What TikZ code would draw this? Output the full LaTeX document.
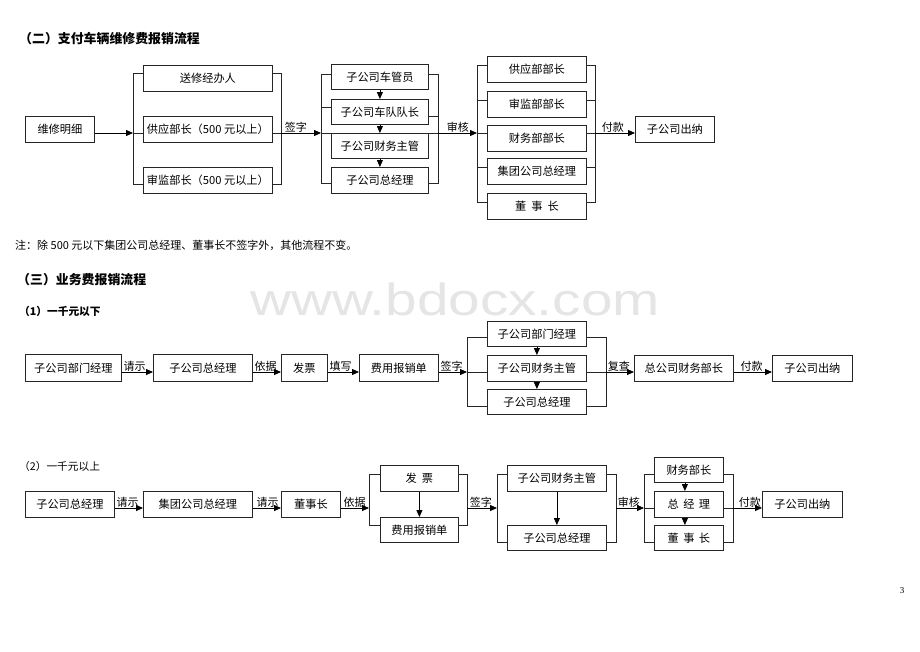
\documentclass[tikz,border=0pt]{standalone}
\usepackage{fontspec}
\usepackage{graphicx}
\setmainfont{Noto Sans CJK SC}
\newfontfamily\wmfont{Liberation Sans}
\newfontfamily\numfont{Liberation Serif}
\usetikzlibrary{arrows.meta}
\begin{document}
\begin{tikzpicture}[x=1pt,y=-1pt,
  box/.style={draw=black!85, line width=0.8pt, inner sep=0pt, anchor=north west, font=\fontsize{11.2}{13}\selectfont},
  arr/.style={draw=black, line width=0.8pt, -{Triangle[length=7pt,width=6pt]}},
  ln/.style={draw=black!85, line width=0.8pt},
  lbl/.style={font=\fontsize{11}{12}\selectfont, inner sep=0.5pt, anchor=south west},
  hd/.style={anchor=west, inner sep=0pt, font=\fontsize{12.9}{14}\selectfont\bfseries}]
\useasboundingbox[fill=white] (0,0) rectangle (920,651);

% watermark
\node[anchor=base west, inner sep=0pt, text=black!10, font=\wmfont\fontsize{45}{50}\selectfont] (wm) at (250,315) {\scalebox{1.26}[1]{www.bdocx.com}};

% texts
\node[hd] (h1) at (19,39) {（二）支付车辆维修费报销流程};
\node[anchor=west, inner sep=0pt, font=\fontsize{11}{12}\selectfont] (note) at (15,245) {注：除 500 元以下集团公司总经理、董事长不签字外，其他流程不变。};
\node[hd] (h2) at (17,280) {（三）业务费报销流程};
\node[anchor=west, inner sep=0pt, font=\fontsize{10.7}{12}\selectfont\bfseries] (h3) at (19,311) {（1）一千元以下};
\node[anchor=west, inner sep=0pt, font=\fontsize{10.7}{12}\selectfont] (h4) at (19,466) {（2）一千元以上};
\node[inner sep=0pt, font=\numfont\fontsize{9}{10}\selectfont] (pg) at (902,591) {3};

% ================= Section 1 =================
\node[box,minimum width=69pt,minimum height=26pt] (m1) at (25,116) {维修明细};
\node[box,minimum width=129pt,minimum height=26pt] (a1) at (143,65) {送修经办人};
\node[box,minimum width=129pt,minimum height=26pt] (a2) at (143,116) {供应部长（500 元以上）};
\node[box,minimum width=129pt,minimum height=26pt] (a3) at (143,167) {审监部长（500 元以上）};
\coordinate (Al) at (133,133); \coordinate (Ar) at (281,133);
\coordinate (a1p) at ([yshift=5pt]a1.center);
\coordinate (a3p) at ([yshift=-4pt]a3.center);
\draw[ln] (a1p -| a1.west) -| (a3p -| Al) -- (a3p -| a3.west);
\draw[ln] (a1p -| a1.east) -| (a3p -| Ar) -- (a3p -| a3.east);
\draw[ln] (Al) -- (Al -| a2.west);
\draw[ln] (Ar -| a2.east) -- (Ar);
\draw[arr] (m1.east |- Al) -- (Al);

\node[box,minimum width=97pt,minimum height=25pt] (b1) at (331,64) {子公司车管员};
\node[box,minimum width=97pt,minimum height=25pt] (b2) at (331,99) {子公司车队队长};
\node[box,minimum width=97pt,minimum height=25pt] (b3) at (331,133) {子公司财务主管};
\node[box,minimum width=97pt,minimum height=26pt] (b4) at (331,167) {子公司总经理};
\coordinate (Bl) at (321,133); \coordinate (Br) at (438,133);
\coordinate (b1p) at ([yshift=2.5pt]b1.center);
\coordinate (b2l) at ([yshift=4.5pt]b2.center);
\coordinate (b2r) at ([yshift=-4.5pt]b2.center);
\coordinate (b4p) at ([yshift=-3pt]b4.center);
\draw[ln] (b1p -| b1.west) -| (b4p -| Bl) -- (b4p -| b4.west);
\draw[ln] (b1p -| b1.east) -| (b4p -| Br) -- (b4p -| b4.east);
\draw[ln] (b2l -| Bl) -- (b2l -| b2.west);
\draw[ln] (b2r -| b2.east) -- (b2r -| Br);
\draw[ln] (Bl) -- (Bl -| b3.west);
\draw[ln] (Br -| b3.east) -- (Br);
\draw[arr] (b1) -- (b2);
\draw[arr] (b2) -- (b3);
\draw[arr] (b3) -- (b4);
\draw[arr] (Ar) -- (Bl) node[lbl,pos=0,xshift=3pt] {签字};

\node[box,minimum width=99pt,minimum height=25.5pt] (c1) at (487,56) {供应部部长};
\node[box,minimum width=99pt,minimum height=25.5pt] (c2) at (487,91) {审监部部长};
\node[box,minimum width=99pt,minimum height=25.5pt] (c3) at (487,125) {财务部部长};
\node[box,minimum width=99pt,minimum height=25.5pt] (c4) at (487,158) {集团公司总经理};
\node[box,minimum width=99pt,minimum height=25.5pt] (c5) at (487,193) {董\hspace{0.45em}事\hspace{0.45em}长};
\coordinate (Cl) at (477,133); \coordinate (Cr) at (595,133);
\coordinate (c1p) at ([yshift=4pt]c1.center);
\coordinate (c2p) at ([yshift=4pt]c2.center);
\coordinate (c4p) at ([yshift=4pt]c4.center);
\coordinate (c5p) at ([yshift=4pt]c5.center);
\draw[ln] (c1p -| c1.west) -| (c5p -| Cl) -- (c5p -| c5.west);
\draw[ln] (c1p -| c1.east) -| (c5p -| Cr) -- (c5p -| c5.east);
\draw[ln] (c2p -| Cl) -- (c2p -| c2.west);
\draw[ln] (c2p -| c2.east) -- (c2p -| Cr);
\draw[ln] (Cl) -- (Cl -| c3.west);
\draw[ln] (Cr -| c3.east) -- (Cr);
\draw[ln] (c4p -| Cl) -- (c4p -| c4.west);
\draw[ln] (c4p -| c4.east) -- (c4p -| Cr);
\draw[arr] (Br) -- (Cl) node[lbl,pos=0,xshift=8pt] {审核};

\node[box,minimum width=79pt,minimum height=26pt] (p1) at (635,116) {子公司出纳};
\draw[arr] (Cr) -- (Cr -| p1.west) node[lbl,pos=0,xshift=6pt] {付款};

% ================= Section 2 (1) =================
\coordinate (M1) at (0,372);
\node[box,minimum width=96pt,minimum height=27pt] (r1) at (25,354) {子公司部门经理};
\node[box,minimum width=99pt,minimum height=27pt] (r2) at (153,354) {子公司总经理};
\node[box,minimum width=46pt,minimum height=27pt] (r3) at (281,354) {发票};
\node[box,minimum width=79pt,minimum height=27pt] (r4) at (359,354) {费用报销单};
\draw[arr] (r1.east |- M1) -- (r2.west |- M1) node[lbl,pos=0,xshift=1pt] {请示};
\draw[arr] (r2.east |- M1) -- (r3.west |- M1) node[lbl,pos=0,xshift=1pt] {依据};
\draw[arr] (r3.east |- M1) -- (r4.west |- M1) node[lbl,pos=0,xshift=1pt] {填写};

\node[box,minimum width=99pt,minimum height=25pt] (d1) at (487,321) {子公司部门经理};
\node[box,minimum width=99pt,minimum height=26pt] (d2) at (487,355) {子公司财务主管};
\node[box,minimum width=99pt,minimum height=25pt] (d3) at (487,389) {子公司总经理};
\coordinate (Dl) at (467,372); \coordinate (Dr) at (606,372);
\coordinate (d1p) at ([yshift=-3.5pt]d1.center);
\coordinate (d3p) at ([yshift=-4.5pt]d3.center);
\draw[ln] (d1p -| d1.west) -| (d3p -| Dl) -- (d3p -| d3.west);
\draw[ln] (d1p -| d1.east) -| (d3p -| Dr) -- (d3p -| d3.east);
\draw[ln] (Dl) -- (Dl -| d2.west);
\draw[ln] (Dr -| d2.east) -- (Dr);
\draw[arr] (d1) -- (d2);
\draw[arr] (d2) -- (d3);
\draw[arr] (r4.east |- M1) -- (Dl) node[lbl,pos=0,xshift=1pt] {签字};

\node[box,minimum width=99pt,minimum height=26pt] (r5) at (634,355) {总公司财务部长};
\node[box,minimum width=80pt,minimum height=26pt] (r6) at (772,355) {子公司出纳};
\draw[arr] (Dr) -- (Dr -| r5.west) node[lbl,pos=0,xshift=1pt] {复查};
\draw[arr] (r5.east |- M1) -- (r6.west |- M1) node[lbl,pos=0,xshift=6pt] {付款};

% ================= Section 2 (2) =================
\coordinate (M2) at (0,508);
\node[box,minimum width=89pt,minimum height=26pt] (s1) at (25,491) {子公司总经理};
\node[box,minimum width=109pt,minimum height=26pt] (s2) at (143,491) {集团公司总经理};
\node[box,minimum width=59pt,minimum height=26pt] (s3) at (281,491) {董事长};
\draw[arr] (s1.east |- M2) -- (s2.west |- M2) node[lbl,pos=0,xshift=1pt] {请示};
\draw[arr] (s2.east |- M2) -- (s3.west |- M2) node[lbl,pos=0,xshift=3pt] {请示};

\node[box,minimum width=78pt,minimum height=26pt] (e1) at (380,465) {发\hspace{0.45em}票};
\node[box,minimum width=78pt,minimum height=25pt] (e2) at (380,517) {费用报销单};
\coordinate (El) at (369,508); \coordinate (Er) at (467,508);
\coordinate (e1p) at ([yshift=4pt]e1.center);
\coordinate (e2p) at ([yshift=4.5pt]e2.center);
\draw[ln] (e1p -| e1.west) -| (e2p -| El) -- (e2p -| e2.west);
\draw[ln] (e1p -| e1.east) -| (e2p -| Er) -- (e2p -| e2.east);
\draw[arr] (e1) -- (e2);
\draw[arr] (s3.east |- M2) -- (El) node[lbl,pos=0,xshift=2pt] {依据};

\node[box,minimum width=99pt,minimum height=26pt] (f1) at (507,465) {子公司财务主管};
\node[box,minimum width=99pt,minimum height=25pt] (f2) at (507,525) {子公司总经理};
\coordinate (Fl) at (497,508); \coordinate (Fr) at (616,508);
\coordinate (f1p) at ([yshift=4pt]f1.center);
\coordinate (f2p) at ([yshift=-4.5pt]f2.center);
\draw[ln] (f1p -| f1.west) -| (f2p -| Fl) -- (f2p -| f2.west);
\draw[ln] (f1p -| f1.east) -| (f2p -| Fr) -- (f2p -| f2.east);
\draw[arr] (f1) -- (f2);
\draw[arr] (Er) -- (Fl) node[lbl,pos=0,xshift=2pt] {签字};

\node[box,minimum width=69pt,minimum height=25pt] (g1) at (654,457) {财务部长};
\node[box,minimum width=69pt,minimum height=26pt] (g2) at (654,491) {总\hspace{0.4em}经\hspace{0.4em}理};
\node[box,minimum width=69pt,minimum height=25pt] (g3) at (654,525) {董\hspace{0.4em}事\hspace{0.4em}长};
\coordinate (Gl) at (644,508); \coordinate (Gr) at (733,508);
\coordinate (g1p) at ([yshift=-4.5pt]g1.center);
\coordinate (g3p) at ([yshift=-4.5pt]g3.center);
\draw[ln] (g1p -| g1.west) -| (g3p -| Gl) -- (g3p -| g3.west);
\draw[ln] (g1p -| g1.east) -| (g3p -| Gr) -- (g3p -| g3.east);
\draw[ln] (Gl) -- (Gl -| g2.west);
\draw[ln] (Gr -| g2.east) -- (Gr);
\draw[arr] ([xshift=-4pt]g1.south) -- ([xshift=-4pt]g2.north);
\draw[arr] ([xshift=-4pt]g2.south) -- ([xshift=-4pt]g3.north);
\draw[arr] (Fr) -- (Gl) node[lbl,pos=0,xshift=1pt] {审核};

\node[box,minimum width=80pt,minimum height=26pt] (s4) at (762,491) {子公司出纳};
\draw[arr] (Gr) -- (Gr -| s4.west) node[lbl,pos=0,xshift=5pt] {付款};
\end{tikzpicture}
\end{document}
